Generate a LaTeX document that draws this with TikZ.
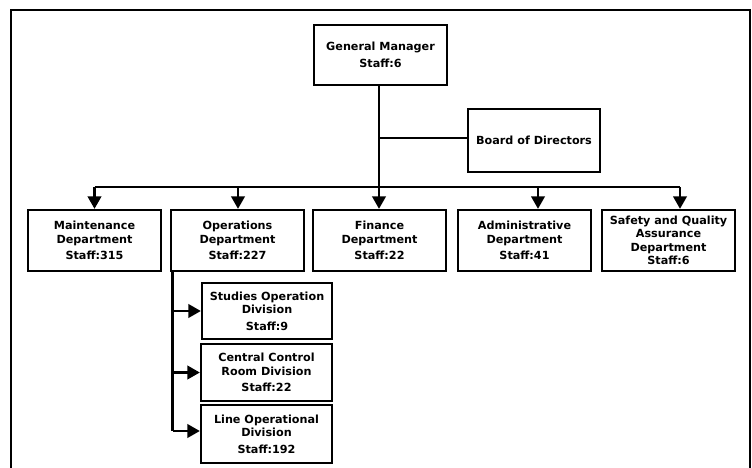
\documentclass[tikz,border=0pt]{standalone}
\usepackage{fontspec}
\setmainfont{DejaVu Sans}
\usetikzlibrary{arrows.meta}

\tikzset{
  unitbox/.style={draw, line width=2.3pt, rectangle, inner sep=0pt,
    align=center, font=\bfseries\fontsize{11.2}{13.5}\selectfont},
  link/.style={line width=2.4pt},
  arr/.style={link, -{Triangle[width=13.5pt,length=12.5pt]}},
}

\begin{document}
\begin{tikzpicture}[x=1pt,y=-1pt]
  \clip (0,0) rectangle (752,468);
  % outer frame
  \draw[line width=2pt] (11,10) rectangle (749.5,490);

  % top level
  \node[unitbox, minimum width=133pt, minimum height=60pt] (gm) at (380.5,55)
    {General Manager\\[3pt]Staff:6};
  \node[unitbox, minimum width=132pt, minimum height=63pt] (bd) at (534,140.5)
    {Board of Directors};

  % departments
  \node[unitbox, minimum width=133pt, minimum height=61pt] (maint) at (94.5,240.5)
    {Maintenance\\Department\\[3pt]Staff:315};
  \node[unitbox, minimum width=133pt, minimum height=61pt] (ops) at (237.5,240.5)
    {Operations\\Department\\[3pt]Staff:227};
  \node[unitbox, minimum width=133pt, minimum height=61pt] (fin) at (379.5,240.5)
    {Finance\\Department\\[3pt]Staff:22};
  \node[unitbox, minimum width=133pt, minimum height=61pt] (adm) at (524.5,240.5)
    {Administrative\\Department\\[3pt]Staff:41};
  \node[unitbox, minimum width=133pt, minimum height=61pt] (saf) at (668.5,240.5)
    {Safety and Quality\\Assurance\\Department\\Staff:6};

  % divisions of the operations department
  \node[unitbox, minimum width=130pt, minimum height=56pt] (stu) at (267,311)
    {Studies Operation\\Division\\[3pt]Staff:9};
  \node[unitbox, minimum width=131pt, minimum height=57pt] (ccr) at (266.5,372.5)
    {Central Control\\Room Division\\[3pt]Staff:22};
  \node[unitbox, minimum width=131pt, minimum height=58pt] (lod) at (266.5,434)
    {Line Operational\\Division\\[3pt]Staff:192};

  % bus and branch points
  \coordinate (trunk) at (379,187);
  \coordinate (br) at (379,138);
  \coordinate (busL) at (94.5,187);
  \coordinate (busR) at (680,187);
  \coordinate (tOps) at (238,187);
  \coordinate (tAdm) at (538,187);
  \coordinate (sp) at (172.5,431);

  % general manager to board and departments
  \draw[arr] (gm.south -| trunk) -- (trunk |- fin.north);
  \draw[link] (br) -- (bd.west |- br);
  \draw[link] (busL) -- (busR);
  \draw[arr] (busL) -- (busL |- maint.north);
  \draw[arr] (tOps) -- (tOps |- ops.north);
  \draw[arr] (tAdm) -- (tAdm |- adm.north);
  \draw[arr] (busR) -- (busR |- saf.north);

  % operations department to its divisions
  \draw[link] (sp |- ops.south) -- (sp);
  \draw[arr] (sp |- stu.west) -- (stu.west);
  \draw[arr] (sp |- ccr.west) -- (ccr.west);
  \draw[arr] (sp) -- (sp -| lod.west);
\end{tikzpicture}
\end{document}
